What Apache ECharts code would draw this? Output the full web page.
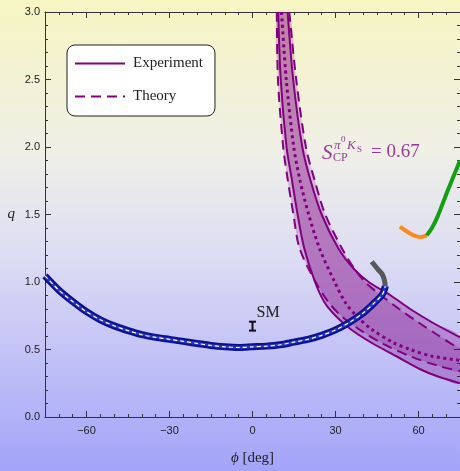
<!DOCTYPE html>
<html lang="en">
<head>
<meta charset="UTF-8">
<title>q vs phi</title>
<script src="https://cdn.jsdelivr.net/npm/echarts@6/dist/echarts.min.js"></script>
<style>
  html, body { margin: 0; padding: 0; }
  #main {
    width: 460px; height: 471px;
    background: linear-gradient(to bottom, #f6f5c2 0%, #efefe8 33%, #dcdcf4 55%, #a3a3fa 100%);
  }
</style>
</head>
<body>
<div id="main"></div>
<script>
// tick labels
const xTicks = [-60, -30, 0, 30, 60];

// blue band
const bluePhi = [-75, -70, -65, -60, -55, -50, -45, -40, -35, -30, -25, -20, -15, -10, -5, 0, 5, 10, 15, 20, 25, 30, 35, 40, 44, 47, 48];
const blueQ   = [1.045, 0.94, 0.855, 0.78, 0.72, 0.675, 0.64, 0.61, 0.59, 0.575, 0.56, 0.545, 0.53, 0.52, 0.515, 0.52, 0.525, 0.535, 0.555, 0.575, 0.605, 0.645, 0.70, 0.77, 0.845, 0.91, 0.97];
// gray tail
const grayPhi = [48, 47.6, 46.8, 45.5, 43.1];
const grayQ   = [0.97, 1.02, 1.06, 1.09, 1.15];
// orange + green
const orangePhi = [53.3, 55, 57, 59, 61, 63];
const orangeQ   = [1.41, 1.385, 1.36, 1.34, 1.333, 1.345];
const greenPhi  = [63, 65, 67, 69, 71, 73, 75];
const greenQ    = [1.345, 1.405, 1.49, 1.595, 1.70, 1.80, 1.90];

// experiment band (solid)
const expLowQ   = [3.0, 2.5, 2.0, 1.75, 1.5, 1.25, 1.0, 0.85, 0.75, 0.65, 0.55, 0.45, 0.35, 0.3, 0.25];
const expLowPhi = [9.3, 10.2, 12.3, 14.3, 16.3, 18.7, 22.6, 26, 30, 35.5, 43, 52, 61, 67, 75];
const expUpQ    = [3.0, 2.5, 2.0, 1.75, 1.5, 1.25, 1.1, 1.0, 0.9, 0.8, 0.7, 0.59];
const expUpPhi  = [12.7, 14.7, 18.0, 21.0, 25.0, 31.0, 36.5, 42, 50, 57, 65, 75];
// theory band (dashed)
const thLowQ    = [3.0, 2.5, 2.0, 1.75, 1.5, 1.25, 1.0, 0.85, 0.75, 0.65, 0.55, 0.45, 0.38, 0.34];
const thLowPhi  = [8.8, 9.2, 11.1, 12.8, 14.8, 17.0, 22.8, 27.5, 32, 38.5, 46.5, 57, 67, 75];
const thUpQ     = [3.0, 2.5, 2.0, 1.75, 1.5, 1.25, 1.1, 1.0, 0.9, 0.8, 0.7, 0.6, 0.5];
const thUpPhi   = [13.3, 15.8, 19.3, 22.5, 26.3, 32.3, 36.8, 40.7, 46.5, 53, 60, 67.5, 75];
// central value (dotted)
const midQ      = [3.0, 2.5, 2.0, 1.75, 1.5, 1.25, 1.0, 0.85, 0.75, 0.65, 0.55, 0.5, 0.45, 0.42];
const midPhi    = [10.5, 12.2, 14.9, 17.2, 20.3, 24.2, 29.7, 33.5, 37.5, 43, 51, 57, 65, 75];

// SM point
const smPhi = [0];
const smQ   = [0.673];
const smErr = [0.033];

const purple = '#800080';
const axisCol = '#333';
const serif = '"Liberation Serif", "DejaVu Serif", serif';

function pairs(a, b) { return a.map((v, i) => [v, b[i]]); }

function curve(name, phi, q, color, width, type, z) {
  return {
    name: name, type: 'line', data: pairs(phi, q), symbol: 'none', smooth: 0.3,
    lineStyle: { color: color, width: width, type: type }, itemStyle: { color: color },
    silent: true, z: z, clip: true
  };
}

function band(lowPhi, lowQ, upPhi, upQ, fill, z) {
  return {
    type: 'custom', silent: true, clip: true, z: z, data: [0],
    renderItem: function (params, api) {
      const pts = [];
      for (let i = 0; i < lowPhi.length; i++) pts.push(api.coord([lowPhi[i], lowQ[i]]));
      for (let i = upPhi.length - 1; i >= 0; i--) pts.push(api.coord([upPhi[i], upQ[i]]));
      return { type: 'polygon', shape: { points: pts, smooth: 0.3 }, style: { fill: fill } };
    }
  };
}

function xAx(pos, minor, label) {
  return {
    type: 'value', position: pos, min: -75, max: 75,
    interval: minor ? 5 : undefined,
    axisLine: { show: !minor, onZero: false, lineStyle: { color: axisCol, width: 1 } },
    axisTick: minor ? { inside: true, length: 3, lineStyle: { color: axisCol } }
                    : { inside: true, length: 6, customValues: xTicks, lineStyle: { color: axisCol } },
    axisLabel: label ? {
      customValues: xTicks, margin: 8, color: '#222', fontSize: 11, fontFamily: 'Liberation Sans',
      formatter: v => String(v).replace('-', '\u2212')
    } : { show: false },
    splitLine: { show: false }
  };
}

function yAx(pos, minor, label) {
  return {
    type: 'value', position: pos, min: 0, max: 3, interval: minor ? 0.1 : 0.5,
    axisLine: { show: !minor, onZero: false, lineStyle: { color: axisCol, width: 1 } },
    axisTick: { inside: true, length: minor ? 3 : 6, lineStyle: { color: axisCol } },
    axisLabel: label ? {
      margin: 5, color: '#222', fontSize: 11, fontFamily: 'Liberation Sans',
      formatter: v => v.toFixed(1)
    } : { show: false },
    splitLine: { show: false }
  };
}

const chart = echarts.init(document.getElementById('main'));

const xMain = xAx('bottom', false, true);
xMain.name = '{i|\u03D5} [deg]';
xMain.nameLocation = 'middle';
xMain.nameGap = 34;
xMain.nameTextStyle = { fontFamily: serif, fontSize: 15, color: '#222', rich: { i: { fontFamily: serif, fontStyle: 'italic', fontSize: 15, color: '#222' } } };

const yMain = yAx('left', false, true);
yMain.name = 'q';
yMain.nameLocation = 'middle';
yMain.nameGap = 30;
yMain.nameRotate = 0;
yMain.nameTextStyle = { fontFamily: serif, fontStyle: 'italic', fontSize: 15, color: '#222' };

chart.setOption({
  animation: false,
  backgroundColor: 'transparent',
  grid: { left: 45, right: 0, top: 12, bottom: 43, containLabel: false },
  xAxis: [xMain, xAx('bottom', true, false), xAx('top', false, false), xAx('top', true, false)],
  yAxis: [yMain, yAx('left', true, false), yAx('right', false, false), yAx('right', true, false)],
  legend: {
    data: ['Experiment', 'Theory'],
    orient: 'vertical', left: 67, top: 45,
    padding: [11, 12, 12, 7], itemGap: 18, itemWidth: 50, itemHeight: 14,
    backgroundColor: '#fff', borderColor: '#222', borderWidth: 1, borderRadius: 8,
    itemStyle: { opacity: 0 },
    textStyle: { fontFamily: serif, fontSize: 15, color: '#222', padding: [0, 0, 0, 3] }
  },
  graphic: [
    { type: 'text', x: 322, y: 153, style: { text: 'S', font: 'italic 21px ' + serif, fill: '#963c96', verticalAlign: 'middle' } },
    { type: 'text', x: 334, y: 146, style: { text: 'π', font: 'italic 13px ' + serif, fill: '#963c96', verticalAlign: 'middle' } },
    { type: 'text', x: 341, y: 140, style: { text: '0', font: '9px ' + serif, fill: '#963c96', verticalAlign: 'middle' } },
    { type: 'text', x: 347, y: 146, style: { text: 'K', font: 'italic 13px ' + serif, fill: '#963c96', verticalAlign: 'middle' } },
    { type: 'text', x: 357, y: 150, style: { text: 'S', font: '9px ' + serif, fill: '#963c96', verticalAlign: 'middle' } },
    { type: 'text', x: 333, y: 158, style: { text: 'CP', font: '12px ' + serif, fill: '#963c96', verticalAlign: 'middle' } },
    { type: 'text', x: 371, y: 152, style: { text: '= 0.67', font: '19px ' + serif, fill: '#963c96', verticalAlign: 'middle' } }
  ],
  series: [
    band(expLowPhi, expLowQ, expUpPhi, expUpQ, 'rgba(128, 0, 128, 0.30)', 1),
    band(thLowPhi, thLowQ, thUpPhi, thUpQ, 'rgba(128, 0, 128, 0.23)', 1),
    curve('Experiment', expLowPhi, expLowQ, purple, 2, 'solid', 3),
    curve('Experiment', expUpPhi, expUpQ, purple, 2, 'solid', 3),
    curve('Theory', thLowPhi, thLowQ, purple, 2, [10, 6], 3),
    curve('Theory', thUpPhi, thUpQ, purple, 2, [10, 6], 3),
    curve('', midPhi, midQ, purple, 3, [3, 3.5], 3),
    curve('', bluePhi, blueQ, '#0e0e90', 7, 'solid', 4),
    curve('', bluePhi, blueQ, '#2436c8', 3, 'solid', 4),
    curve('', bluePhi, blueQ, '#ffffff', 1.2, [4, 3], 4),
    curve('', grayPhi, grayQ, '#585858', 5, 'solid', 4),
    curve('', orangePhi, orangeQ, '#fb8c1c', 4, 'solid', 4),
    curve('', greenPhi, greenQ, '#12a012', 4, 'solid', 4),
    {
      type: 'custom', silent: true, z: 5,
      data: smPhi.map((p, i) => [p, smQ[i], smErr[i]]),
      renderItem: function (params, api) {
        const top = api.coord([api.value(0), api.value(1) + api.value(2)]);
        const bot = api.coord([api.value(0), api.value(1) - api.value(2)]);
        const st = { stroke: '#111', lineWidth: 2 };
        return {
          type: 'group', children: [
            { type: 'line', shape: { x1: top[0], y1: top[1], x2: bot[0], y2: bot[1] }, style: st },
            { type: 'line', shape: { x1: top[0] - 3.5, y1: top[1], x2: top[0] + 3.5, y2: top[1] }, style: st },
            { type: 'line', shape: { x1: bot[0] - 3.5, y1: bot[1], x2: bot[0] + 3.5, y2: bot[1] }, style: st },
            { type: 'text', x: top[0] + 4, y: top[1] - 9, style: { text: 'SM', font: '16px ' + serif, fill: '#222', verticalAlign: 'middle' } }
          ]
        };
      }
    }
  ]
});
</script>
</body>
</html>
